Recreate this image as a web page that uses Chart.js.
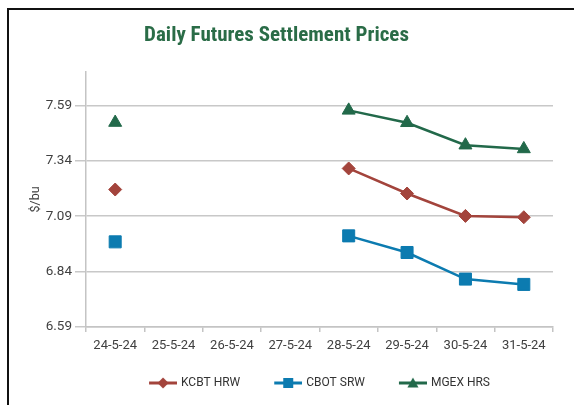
<!DOCTYPE html>
<html>
<head>
<meta charset="utf-8">
<script src="https://cdn.jsdelivr.net/npm/chart.js@4.4.1/dist/chart.umd.min.js"></script>
<style>
  html, body { margin: 0; padding: 0; background: #ffffff; overflow: hidden; }
  #wrap { position: relative; width: 574px; height: 405px; }
  #frame { position: absolute; left: 7px; top: 8px; width: 700px; height: 600px;
           border-left: 2px solid #111; border-top: 2px solid #111; pointer-events: none; }
  canvas { position: absolute; left: 0; top: 0; }
</style>
</head>
<body>
<div id="wrap">
  <canvas id="c" width="574" height="405"></canvas>
  <div id="frame"></div>
</div>
<script>
// ---- data ----
const categories = ['24-5-24', '25-5-24', '26-5-24', '27-5-24', '28-5-24', '29-5-24', '30-5-24', '31-5-24'];
const kcbtValues = [7.21, null, null, null, 7.305, 7.192, 7.091, 7.085];
const cbotValues = [6.974, null, null, null, 7.001, 6.926, 6.806, 6.782];
const mgexValues = [7.512, null, null, null, 7.567, 7.511, 7.41, 7.393];
const yTickValues = [6.59, 6.84, 7.09, 7.34, 7.59];
const seriesNames = ['KCBT HRW', 'CBOT SRW', 'MGEX HRS'];
const yMin = 6.59;
const yMax = 7.74;

// ---- styles ----
const colors = ['#A3443C', '#0C7BB0', '#22694A'];
const FONT = 'Roboto, "Liberation Sans", sans-serif';
const BOX_W = 26;   // legend box width used for layout
const ICON_W = 28;  // visible legend icon width

function legendIcon(color, kind) {
  const cv = document.createElement('canvas');
  cv.width = BOX_W + 4; cv.height = 14;
  const g = cv.getContext('2d');
  g.translate(cv.width - ICON_W, 0);
  g.strokeStyle = color; g.fillStyle = color; g.lineWidth = 3;
  g.beginPath(); g.moveTo(0, 7); g.lineTo(ICON_W, 7); g.stroke();
  g.beginPath();
  if (kind === 'diamond') {
    g.moveTo(14, 1.5); g.lineTo(19.5, 7); g.lineTo(14, 12.5); g.lineTo(8.5, 7); g.closePath();
  } else if (kind === 'square') {
    g.rect(9, 2, 10, 10);
  } else {
    g.moveTo(14, 1.5); g.lineTo(19.5, 11.5); g.lineTo(8.5, 11.5); g.closePath();
  }
  g.fill();
  return cv;
}
const icons = [legendIcon(colors[0], 'diamond'), legendIcon(colors[1], 'square'), legendIcon(colors[2], 'triangle')];

function ds(label, data, color, style, radius) {
  return {
    label, data,
    borderColor: color, backgroundColor: color,
    borderWidth: 2.5,
    pointStyle: style, pointRadius: radius, pointHoverRadius: radius,
    pointBackgroundColor: color, pointBorderColor: color, pointBorderWidth: 1,
    spanGaps: false, tension: 0, fill: false
  };
}

// moves the legend row up closer to the axis labels (keeps its bottom edge)
const legendLift = {
  id: 'legendLift',
  afterLayout(chart) {
    const lg = chart.legend;
    if (lg) { lg.top -= 11; lg.height += 11; }
  }
};

new Chart(document.getElementById('c'), {
  type: 'line',
  data: {
    labels: categories,
    datasets: [
      ds(seriesNames[0], kcbtValues, colors[0], 'rectRot', 6.5),
      ds(seriesNames[1], cbotValues, colors[1], 'rect', 8.5),
      ds(seriesNames[2], mgexValues, colors[2], 'triangle', 7.5)
    ]
  },
  plugins: [legendLift],
  options: {
    responsive: false,
    devicePixelRatio: 1,
    animation: false,
    layout: { padding: { left: 0, right: 21, top: 0, bottom: 11 } },
    plugins: {
      tooltip: { enabled: false },
      title: {
        display: true,
        text: 'Daily Futures Settlement Prices',
        color: '#2A6C47',
        font: { family: '"Roboto Condensed", "Liberation Sans Narrow", "DejaVu Sans Condensed", sans-serif', size: 21, weight: 'bold' },
        padding: { top: 23.4, bottom: 23.4 }
      },
      legend: {
        position: 'bottom',
        fullSize: false,
        maxHeight: 40,
        labels: {
          usePointStyle: true,
          pointStyleWidth: BOX_W,
          padding: 34,
          color: '#333333',
          font: { family: FONT, size: 12 },
          generateLabels: (chart) => {
            const items = Chart.defaults.plugins.legend.labels.generateLabels(chart);
            items.forEach((it, i) => { it.pointStyle = icons[i]; });
            return items;
          }
        }
      }
    },
    scales: {
      x: {
        type: 'category',
        offset: true,
        afterFit: (s) => { s.height = 27; },
        grid: { display: true, drawOnChartArea: false, drawTicks: true, tickLength: 5, offset: true, color: '#c4c4c4', lineWidth: 1.5 },
        border: { display: true, color: '#c4c4c4', width: 1.5 },
        ticks: { padding: 6, maxRotation: 0, autoSkip: false, color: '#404040', font: { family: FONT, size: 13 } }
      },
      y: {
        min: yMin,
        max: yMax,
        afterFit: (s) => { s.width = 86; },
        afterBuildTicks: (s) => { s.ticks = yTickValues.map(v => ({ value: v })); },
        title: { display: true, text: '$/bu', color: '#404040', font: { family: FONT, size: 12.5 }, padding: { top: 28.8, bottom: 0 } },
        grid: { color: '#c8c8c8', lineWidth: 1.5, tickLength: 11, drawTicks: true },
        border: { display: true, color: '#c4c4c4', width: 1.5 },
        ticks: { padding: 3, color: '#404040', font: { family: FONT, size: 13.5 }, callback: (v) => Number(v).toFixed(2) }
      }
    }
  }
});
</script>
</body>
</html>
